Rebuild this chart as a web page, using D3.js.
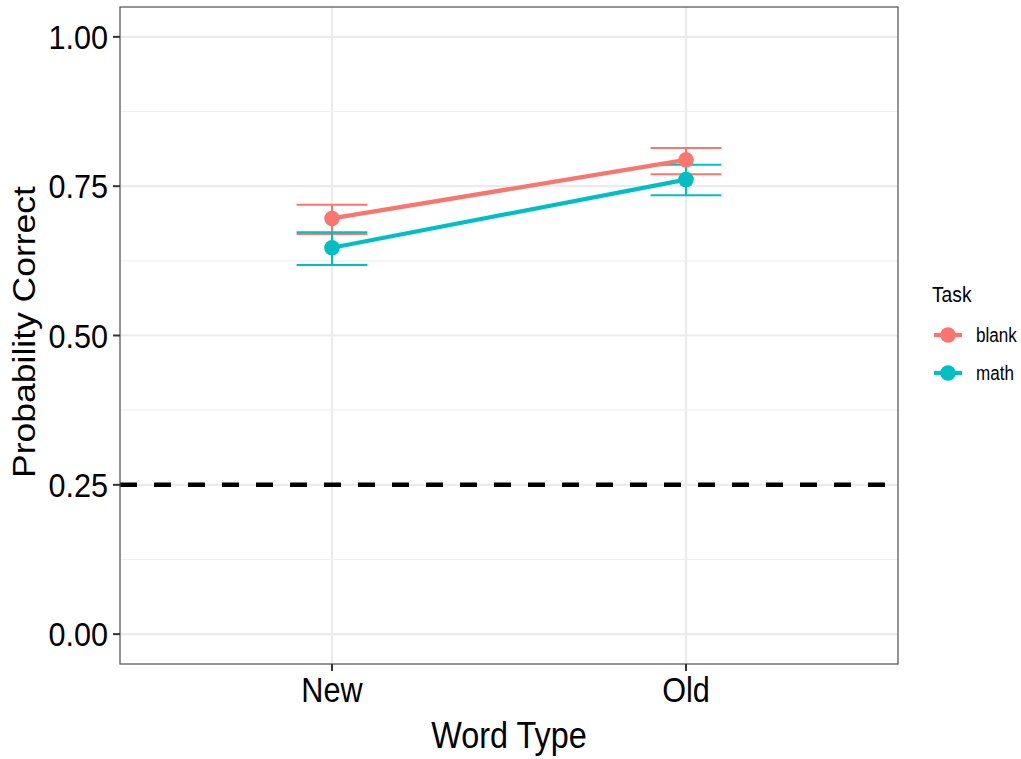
<!DOCTYPE html>
<html>
<head>
<meta charset="utf-8">
<script src="https://cdn.jsdelivr.net/npm/d3@7"></script>
<style>
  html, body { margin: 0; padding: 0; background: #fff; }
  text { font-family: "Liberation Sans", Arial, Helvetica, sans-serif; fill: #000; }
</style>
</head>
<body>
<svg id="chart" width="1021" height="759"></svg>
<script>
// ---- data ----
const wordTypes = ["New", "Old"];
const tasks = ["blank", "math"];
const taskColors = ["#F8766D", "#00BFC4"];
const blankMean = [0.696, 0.794];
const blankLower = [0.670, 0.770];
const blankUpper = [0.719, 0.814];
const mathMean = [0.647, 0.761];
const mathLower = [0.618, 0.735];
const mathUpper = [0.673, 0.786];
const yTicks = [0, 0.25, 0.5, 0.75, 1.0];
const yMinor = [0.125, 0.375, 0.625, 0.875];
const chanceLevel = 0.25;

const series = [
  { task: tasks[0], color: taskColors[0], mean: blankMean, lo: blankLower, hi: blankUpper },
  { task: tasks[1], color: taskColors[1], mean: mathMean, lo: mathLower, hi: mathUpper }
];

// ---- layout ----
const svg = d3.select("#chart");
const P = { left: 120, right: 898, top: 7, bottom: 664 };
const SX = 0.875; // horizontal text squash seen in reference

const x = d3.scalePoint().domain(wordTypes).range([332, 686]);
const step = x(wordTypes[1]) - x(wordTypes[0]);
const y = d3.scaleLinear().domain([-0.05, 1.05]).range([P.bottom, P.top]);

function txt(g, xx, yy, s, size, anchor, rot, sx) {
  return g.append("text")
    .attr("transform", `translate(${xx},${yy}) scale(${sx || SX},1)` + (rot ? ` rotate(${rot})` : ""))
    .attr("text-anchor", anchor)
    .style("font-size", size + "px")
    .text(s);
}

// grid
const grid = svg.append("g");
grid.selectAll("line.minor").data(yMinor).join("line")
  .attr("x1", P.left).attr("x2", P.right)
  .attr("y1", d => y(d)).attr("y2", d => y(d))
  .attr("stroke", "#F0F0F0").attr("stroke-width", 1.2);
grid.selectAll("line.major").data(yTicks).join("line")
  .attr("x1", P.left).attr("x2", P.right)
  .attr("y1", d => y(d)).attr("y2", d => y(d))
  .attr("stroke", "#EBEBEB").attr("stroke-width", 2.2);
grid.selectAll("line.vx").data(wordTypes).join("line")
  .attr("x1", d => x(d)).attr("x2", d => x(d))
  .attr("y1", P.top).attr("y2", P.bottom)
  .attr("stroke", "#EBEBEB").attr("stroke-width", 2.2);

// chance line
svg.append("line")
  .attr("x1", P.left).attr("x2", P.right)
  .attr("y1", y(chanceLevel)).attr("y2", y(chanceLevel))
  .attr("stroke", "#000").attr("stroke-width", 4.5)
  .attr("stroke-dasharray", "17,17");

// error bars
const hw = step * 0.1;
series.forEach(s => {
  const g = svg.append("g").attr("stroke", s.color).attr("stroke-width", 2).attr("fill", "none");
  wordTypes.forEach((w, i) => {
    g.append("line").attr("x1", x(w)).attr("x2", x(w)).attr("y1", y(s.lo[i])).attr("y2", y(s.hi[i]));
    g.append("line").attr("x1", x(w) - hw).attr("x2", x(w) + hw).attr("y1", y(s.lo[i])).attr("y2", y(s.lo[i]));
    g.append("line").attr("x1", x(w) - hw).attr("x2", x(w) + hw).attr("y1", y(s.hi[i])).attr("y2", y(s.hi[i]));
  });
});

// lines and points
const line = d3.line().x((d, i) => x(wordTypes[i])).y(d => y(d));
series.forEach(s => {
  svg.append("path").datum(s.mean).attr("d", line)
    .attr("fill", "none").attr("stroke", s.color).attr("stroke-width", 4.2);
});
series.forEach(s => {
  svg.append("g").selectAll("circle").data(s.mean).join("circle")
    .attr("cx", (d, i) => x(wordTypes[i])).attr("cy", d => y(d))
    .attr("r", 7.8).attr("fill", s.color);
});

// panel border
svg.append("rect").attr("x", P.left).attr("y", P.top)
  .attr("width", P.right - P.left).attr("height", P.bottom - P.top)
  .attr("fill", "none").attr("stroke", "#4d4d4d").attr("stroke-width", 1.2);

// y axis ticks and labels
const ya = svg.append("g");
yTicks.forEach(t => {
  ya.append("line").attr("x1", P.left - 7).attr("x2", P.left).attr("y1", y(t)).attr("y2", y(t))
    .attr("stroke", "#333").attr("stroke-width", 2);
  txt(ya, P.left - 12, y(t) + 12, d3.format(".2f")(t), 34, "end", null, 0.9);
});
// x axis ticks and labels
const xa = svg.append("g");
wordTypes.forEach(w => {
  xa.append("line").attr("x1", x(w)).attr("x2", x(w)).attr("y1", P.bottom).attr("y2", P.bottom + 7)
    .attr("stroke", "#333").attr("stroke-width", 2);
  txt(xa, x(w), 702, w, 35, "middle");
});

// axis titles
txt(svg, (P.left + P.right) / 2, 748, "Word Type", 37, "middle");
txt(svg, 35, 332, "Probability Correct", 35.5, "middle", -90);

// legend
const lg = svg.append("g");
txt(lg, 932, 302, "Task", 22, "start");
const keyY = [335, 373];
series.forEach((s, i) => {
  lg.append("line").attr("x1", 934).attr("x2", 962).attr("y1", keyY[i]).attr("y2", keyY[i])
    .attr("stroke", s.color).attr("stroke-width", 4.2);
  lg.append("circle").attr("cx", 948).attr("cy", keyY[i]).attr("r", 7.8).attr("fill", s.color);
  txt(lg, 976, keyY[i] + 7, s.task, 19.5, "start");
});
</script>
</body>
</html>
